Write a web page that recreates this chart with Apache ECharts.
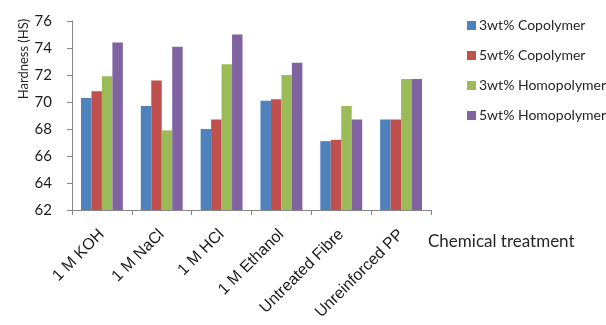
<!DOCTYPE html>
<html><head><meta charset="utf-8">
<script src="https://cdn.jsdelivr.net/npm/echarts@6/dist/echarts.min.js"></script>
<style>html,body{margin:0;padding:0;background:#fff}#c{width:606px;height:325px}</style>
</head><body><div id="c"></div>
<script>
const categories = ['1 M KOH', '1 M NaCl', '1 M HCl', '1 M Ethanol', 'Untreated Fibre', 'Unreinforced PP'];
const seriesNames = ['3wt% Copolymer', '5wt% Copolymer', '3wt% Homopolymer', '5wt% Homopolymer'];
const copo3 = [70.3, 69.7, 68.0, 70.1, 67.1, 68.7];
const copo5 = [70.8, 71.6, 68.7, 70.2, 67.2, 68.7];
const homo3 = [71.9, 67.9, 72.8, 72.0, 69.7, 71.7];
const homo5 = [74.4, 74.1, 75.0, 72.9, 68.7, 71.7];
const yTicks = {min: 62, max: 76, interval: 2};
const colors = ['#4F81BD', '#C0504D', '#9BBB59', '#8064A2'];
const font = 'Lato';
const chart = echarts.init(document.getElementById('c'));
const data = [copo3, copo5, homo3, homo5];
chart.setOption({
  animation: false,
  color: colors,
  grid: {left: 72, right: 175, top: 21, bottom: 115, containLabel: false},
  legend: {
    orient: 'vertical', left: 462, top: 12, itemWidth: 9, itemHeight: 9, itemGap: 13,
    icon: 'rect',
    textStyle: {fontFamily: font, fontSize: 14, color: '#262626', lineHeight: 17, padding: [0,0,0,-2]},
    data: seriesNames
  },
  xAxis: {
    type: 'category', data: categories,
    axisLine: {lineStyle: {color: '#868686'}},
    axisTick: {show: true, length: 5, lineStyle: {color: '#868686'}},
    axisLabel: {rotate: 45, margin: 22, fontFamily: '"Liberation Sans", Arial, sans-serif', fontSize: 16, color: '#1a1a1a', interval: 0}
  },
  yAxis: {
    type: 'value', min: yTicks.min, max: yTicks.max, interval: yTicks.interval,
    axisLine: {show: true, lineStyle: {color: '#868686'}},
    axisTick: {show: true, length: 5, lineStyle: {color: '#868686'}},
    splitLine: {show: false},
    axisLabel: {margin: 20, fontFamily: font, fontSize: 15, color: '#1a1a1a'}
  },
  graphic: [{
    type: 'text', x: 17, y: 59, rotation: Math.PI / 2,
    style: {text: 'Hardness (HS)', font: '13px Lato', fill: '#262626', align: 'center', verticalAlign: 'top'}
  }, {
    type: 'text', x: 428, y: 242,
    style: {text: 'Chemical treatment', font: '17px Lato', fill: '#262626', align: 'left', verticalAlign: 'middle'}
  }],
  series: seriesNames.map((n, i) => ({
    name: n, type: 'bar', data: data[i], barGap: '0%', barCategoryGap: '30%'
  }))
});
</script></body></html>
